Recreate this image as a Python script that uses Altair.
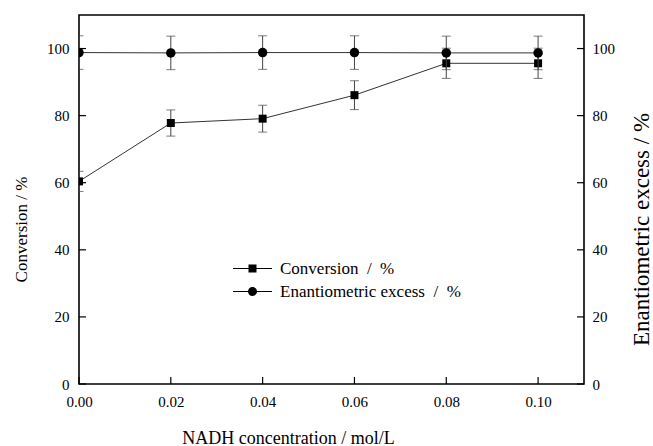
import altair as alt
import pandas as pd

# ---- data ----
nadh = [0.00, 0.02, 0.04, 0.06, 0.08, 0.10]
conversion = [60.4, 77.8, 79.1, 86.1, 95.6, 95.6]
conversion_err = [3.0, 3.9, 4.0, 4.3, 4.5, 4.5]
ee = [98.8, 98.7, 98.8, 98.8, 98.7, 98.7]
ee_err = [5.0, 5.0, 5.0, 5.0, 5.0, 5.0]
x_ticks = [0.00, 0.02, 0.04, 0.06, 0.08, 0.10]
y_ticks = [0, 20, 40, 60, 80, 100]

conv_label = "Conversion\u00a0 /\u00a0 %"
ee_label = "Enantiometric excess\u00a0 /\u00a0 %"

FONT = "Liberation Serif"
W, H = 505, 369
TICK = 7

conv_df = pd.DataFrame({
    "x": nadh, "y": conversion,
    "lo": [v - e for v, e in zip(conversion, conversion_err)],
    "hi": [v + e for v, e in zip(conversion, conversion_err)],
    "series": conv_label,
})
ee_df = pd.DataFrame({
    "x": nadh, "y": ee,
    "lo": [v - e for v, e in zip(ee, ee_err)],
    "hi": [v + e for v, e in zip(ee, ee_err)],
    "series": ee_label,
})
both_df = pd.concat([conv_df, ee_df], ignore_index=True)
xt_df = pd.DataFrame({"x": x_ticks})
yt_df = pd.DataFrame({"y": y_ticks})

xscale = alt.Scale(domain=[0, 0.11], nice=False, zero=False)
yscale = alt.Scale(domain=[0, 110], nice=False)

xaxis = alt.Axis(
    title="NADH concentration / mol/L", values=x_ticks, format=".2f",
    ticks=False, domain=False, grid=False, labelPadding=10, labelFlush=False,
    labelFont=FONT, labelFontSize=15, labelColor="black",
    titleFont=FONT, titleFontSize=18, titleFontWeight="normal", titleColor="black",
    titleX=209, titleY=59, titleAlign="center", titleBaseline="alphabetic",
    titleAnchor="start",
)
yaxis_left = alt.Axis(
    title="Conversion / %", values=y_ticks, format="d", orient="left",
    ticks=False, domain=False, grid=False, labelPadding=10, labelFlush=False,
    labelFont=FONT, labelFontSize=15, labelColor="black",
    titleFont=FONT, titleFontSize=17, titleFontWeight="normal", titleColor="black",
    titleX=-58, titleY=214, titleAngle=270, titleAlign="center",
    titleBaseline="middle", titleAnchor="start",
)
yaxis_right = alt.Axis(
    title="Enantiometric excess / %", values=y_ticks, format="d", orient="right",
    ticks=False, domain=False, grid=False, labelPadding=8, labelFlush=False,
    labelFont=FONT, labelFontSize=15, labelColor="black",
    titleFont=FONT, titleFontSize=23, titleFontWeight="normal", titleColor="black",
    titleX=57, titleY=214, titleAngle=270, titleAlign="center",
    titleBaseline="middle", titleAnchor="start",
)

X = lambda: alt.X("x:Q", scale=xscale, axis=xaxis)

# legend glyphs: a thin filled bar (the line) plus the marker, all filled
path_sq = ("M-3.9,-0.1L3.9,-0.1L3.9,0.1L-3.9,0.1Z"
           "M-0.8,-0.8L0.8,-0.8L0.8,0.8L-0.8,0.8Z")
path_ci = ("M-3.9,-0.1L3.9,-0.1L3.9,0.1L-3.9,0.1Z"
           "M0.9,0A0.9,0.9,0,1,1,-0.9,0A0.9,0.9,0,1,1,0.9,0Z")

legend = alt.Legend(
    title=None, orient="none", legendX=165, legendY=245, padding=0,
    labelFont=FONT, labelFontSize=17, labelColor="black", labelOffset=19,
    labelLimit=400,
    symbolSize=100, symbolFillColor="black", symbolStrokeColor="black",
    symbolStrokeWidth=0, symbolOpacity=1, rowPadding=5,
)
legend_shape = alt.Scale(domain=[conv_label, ee_label], range=[path_sq, path_ci])


def series_layers(df, yaxis, shape, size):
    Y = lambda f: alt.Y(f"{f}:Q", scale=yscale, axis=yaxis)
    base = alt.Chart(df)
    line = base.mark_line(color="#333333", strokeWidth=1, clip=True).encode(
        x=X(), y=Y("y"))
    bars = base.mark_rule(color="#444444", strokeWidth=1, clip=True).encode(
        x=X(), y=Y("lo"), y2="hi:Q")
    cap_lo = base.mark_tick(color="#444444", thickness=1, size=9, orient="horizontal",
                            clip=True).encode(x=X(), y=Y("lo"))
    cap_hi = base.mark_tick(color="#444444", thickness=1, size=9, orient="horizontal",
                            clip=True).encode(x=X(), y=Y("hi"))
    pts = base.mark_point(filled=True, color="black", opacity=1, size=size,
                          shape=shape, clip=True).encode(x=X(), y=Y("y"))
    return [line, bars, cap_lo, cap_hi, pts]


# invisible layer that only carries the legend
legend_layer = alt.Chart(both_df).mark_point(
    filled=True, color="black", opacity=0
).encode(
    x=X(), y=alt.Y("y:Q", scale=yscale, axis=yaxis_left),
    shape=alt.Shape("series:N", scale=legend_shape, legend=legend),
)

# inward ticks
xtick_marks = alt.Chart(xt_df).mark_rule(color="black", strokeWidth=1.2).encode(
    x=X(), y=alt.value(H), y2=alt.value(H - TICK))
ltick_marks = alt.Chart(yt_df).mark_rule(color="black", strokeWidth=1.2).encode(
    y=alt.Y("y:Q", scale=yscale, axis=yaxis_left), x=alt.value(0), x2=alt.value(TICK))
rtick_marks = alt.Chart(yt_df).mark_rule(color="black", strokeWidth=1.2).encode(
    y=alt.Y("y:Q", scale=yscale, axis=yaxis_right), x=alt.value(W - TICK), x2=alt.value(W))

left_group = alt.layer(*series_layers(conv_df, yaxis_left, "square", 64),
                       ltick_marks, xtick_marks, legend_layer)
right_group = alt.layer(*series_layers(ee_df, yaxis_right, "circle", 90), rtick_marks)

chart = alt.layer(left_group, right_group).resolve_scale(y="independent").properties(
    width=W, height=H,
    autosize=alt.AutoSizeParams(type="none"),
    padding={"left": 79, "top": 15, "right": 69, "bottom": 62},
    background="white",
).configure(font=FONT).configure_view(stroke="black", strokeWidth=1.6)

chart.save("out.html", embed_options={"renderer": "svg", "actions": False})
